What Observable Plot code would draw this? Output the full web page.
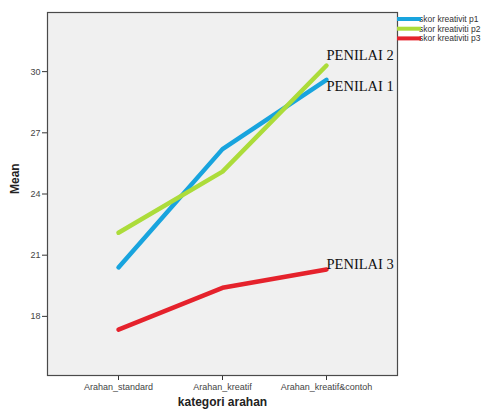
<!DOCTYPE html>
<html>
<head>
<meta charset="utf-8">
<script src="https://cdn.jsdelivr.net/npm/d3@7"></script>
<script src="https://cdn.jsdelivr.net/npm/@observablehq/plot@0.6"></script>
<style>
  html, body { margin: 0; padding: 0; background: #fff; }
  #chart svg { display: block; }
</style>
</head>
<body>
<div id="chart"></div>
<script>
const categories = ["Arahan_standard", "Arahan_kreatif", "Arahan_kreatif&contoh"];
const seriesNames = ["skor kreativit p1", "skor kreativiti p2", "skor kreativiti p3"];
const p1 = [20.4, 26.2, 29.6];
const p2 = [22.1, 25.1, 30.3];
const p3 = [17.35, 19.4, 20.3];
const yTicks = [18, 21, 24, 27, 30];
const endLabels = ["PENILAI 1", "PENILAI 2", "PENILAI 3"];
const colors = ["#18a4de", "#acdc3a", "#e5222c"];

const allSeries = [p1, p2, p3];
const data = [];
allSeries.forEach((vals, s) => vals.forEach((v, i) => data.push({cat: categories[i], series: seriesNames[s], value: v})));
const last = allSeries.map((vals, s) => ({cat: categories[categories.length - 1], value: vals[vals.length - 1], label: endLabels[s]}));

const labelFont = "Liberation Serif, DejaVu Serif, serif";

const chart = Plot.plot({
  width: 484,
  height: 413,
  marginLeft: 47,
  marginRight: 87,
  marginTop: 12,
  marginBottom: 38,
  style: {fontFamily: "Liberation Sans, Arial, sans-serif", fontSize: "9px", color: "#333", background: "#fff"},
  x: {type: "point", domain: categories, padding: 0.667, label: null},
  y: {domain: [15.1, 32.9], label: null},
  color: {domain: seriesNames, range: colors},
  marks: [
    Plot.frame({fill: "#f0f0f0", stroke: "none"}),
    Plot.axisX({tickSize: 5, tickPadding: 3, stroke: "#333", fill: "#444", fontSize: 9, label: null}),
    Plot.axisY({ticks: yTicks, tickSize: 5, tickPadding: 2, stroke: "#333", fill: "#444", fontSize: 9, label: null}),
    Plot.line(data, {x: "cat", y: "value", z: "series", stroke: "series", strokeWidth: 4.5, strokeLinecap: "round", strokeLinejoin: "round"}),
    Plot.frame({stroke: "#4a4a4a", strokeWidth: 1.2}),
    Plot.text([last[0]], {x: "cat", y: "value", text: "label", textAnchor: "start", dy: 7, fontFamily: labelFont, fontSize: 14.5, fill: "#111"}),
    Plot.text([last[1]], {x: "cat", y: "value", text: "label", textAnchor: "start", dy: -10, fontFamily: labelFont, fontSize: 14.5, fill: "#111"}),
    Plot.text([last[2]], {x: "cat", y: "value", text: "label", textAnchor: "start", dy: -5, fontFamily: labelFont, fontSize: 14.5, fill: "#111"}),
    Plot.text(["Mean"], {frameAnchor: "left", dx: -32, rotate: -90, text: d => d, fontWeight: "bold", fontSize: 12, fill: "#222"}),
    Plot.text(["kategori arahan"], {frameAnchor: "bottom", dy: 30, text: d => d, fontWeight: "bold", fontSize: 12, fill: "#222"})
  ]
});

// legend outside the plot area (top right)
const svg = d3.select(chart);
const lg = svg.append("g").attr("font-family", "Liberation Sans, Arial, sans-serif").attr("font-size", 8.5).attr("fill", "#333").attr("text-anchor", "start");
seriesNames.forEach((name, i) => {
  const y = 19 + i * 9.7;
  lg.append("text").attr("x", 419).attr("y", y).attr("dy", "0.35em").attr("text-anchor", "start").text(name);
  lg.append("line").attr("x1", 397).attr("x2", 421).attr("y1", y).attr("y2", y)
    .attr("stroke", colors[i]).attr("stroke-width", 4);
});

document.getElementById("chart").appendChild(chart);
</script>
</body>
</html>
